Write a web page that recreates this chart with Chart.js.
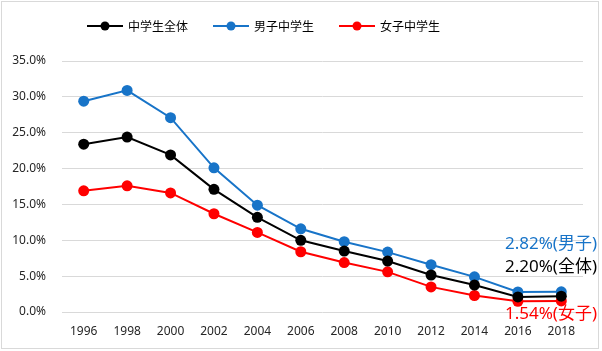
<!DOCTYPE html>
<html>
<head>
<meta charset="utf-8">
<script src="https://cdn.jsdelivr.net/npm/chart.js@4.4.1/dist/chart.umd.min.js"></script>
<style>
  html, body { margin: 0; padding: 0; background: #fff; }
  #wrap { position: relative; width: 602px; height: 351px; }
  #frame { position: absolute; left: 1px; top: 1px; width: 598px; height: 348px;
           border: 1px solid #d9d9d9; box-sizing: border-box; pointer-events: none; }
  #legend { position: absolute; left: 87px; top: 17px; height: 18px; display: flex; gap: 25px;
            font: 12px "Noto Sans CJK JP", "Noto Sans", sans-serif; color: #000; line-height: 18px; }
  #legend .item { display: flex; align-items: center; }
  #legend canvas { margin-right: 5px; }
</style>
</head>
<body>
<div id="wrap">
  <canvas id="chart" width="602" height="351"></canvas>
  <div id="legend"></div>
  <div id="frame"></div>
</div>
<script>
// data (percent)
const years = ['1996','1998','2000','2002','2004','2006','2008','2010','2012','2014','2016','2018'];
const allStudents = [23.4, 24.4, 21.9, 17.1, 13.2, 10.0, 8.5, 7.1, 5.16, 3.76, 2.1, 2.20];
const boys        = [29.4, 30.9, 27.1, 20.1, 14.9, 11.6, 9.8, 8.35, 6.6, 4.9, 2.8, 2.82];
const girls       = [16.9, 17.6, 16.6, 13.7, 11.1, 8.4, 6.9, 5.6, 3.5, 2.3, 1.5, 1.54];
const seriesNames = ['中学生全体', '男子中学生', '女子中学生'];
const endNotes = ['全体', '男子', '女子'];
const colors = ['#000000', '#1874C8', '#FF0000'];
const yMax = 35;
const yStep = 5;

Chart.defaults.font.family = '"Noto Sans", "Noto Sans CJK JP", sans-serif';

const seriesData = [allStudents, boys, girls];

// html legend: line + dot, then name
const legendEl = document.getElementById('legend');
seriesNames.forEach((name, i) => {
  const item = document.createElement('div');
  item.className = 'item';
  const c = document.createElement('canvas');
  c.width = 36; c.height = 12;
  const g = c.getContext('2d');
  g.strokeStyle = colors[i]; g.lineWidth = 2;
  g.beginPath(); g.moveTo(0, 6); g.lineTo(36, 6); g.stroke();
  g.fillStyle = colors[i];
  g.beginPath(); g.arc(18, 6, 4.5, 0, Math.PI * 2); g.fill();
  const t = document.createElement('span');
  t.textContent = name;
  item.appendChild(c);
  item.appendChild(t);
  legendEl.appendChild(item);
});

// last value labels at the right
const endLabels = {
  id: 'endLabels',
  afterDatasetsDraw(chart) {
    const ctx = chart.ctx;
    const yScale = chart.scales.y;
    const offsets = [-29, -48, 13];
    ctx.save();
    ctx.font = '17px "Noto Sans", "Noto Sans CJK JP", sans-serif';
    ctx.textAlign = 'right';
    ctx.textBaseline = 'middle';
    seriesData.forEach((vals, i) => {
      const last = vals[vals.length - 1];
      const y = yScale.getPixelForValue(last) + offsets[i];
      ctx.fillStyle = colors[i];
      ctx.fillText(last.toFixed(2) + '%(' + endNotes[i] + ')', chart.width - 5, y);
    });
    ctx.restore();
  }
};

new Chart(document.getElementById('chart'), {
  type: 'line',
  data: {
    labels: years,
    datasets: seriesData.map((d, i) => ({
      label: seriesNames[i],
      data: d,
      borderColor: colors[i],
      backgroundColor: colors[i],
      borderWidth: 2,
      pointRadius: 5.5,
      pointHoverRadius: 5.5,
      pointBorderWidth: 0,
      tension: 0
    }))
  },
  options: {
    responsive: false,
    animation: false,
    devicePixelRatio: 1,
    layout: { padding: { top: 61, left: 12, right: 19, bottom: 9 } },
    plugins: {
      tooltip: { enabled: false },
      legend: { display: false }
    },
    scales: {
      x: {
        offset: true,
        grid: { display: false, drawTicks: false },
        border: { display: false },
        ticks: { color: '#262626', font: { size: 12 }, padding: 12, maxRotation: 0 },
        afterFit(scale) { scale.height = 30; }
      },
      y: {
        min: 0,
        max: yMax,
        grid: { color: '#d9d9d9', drawTicks: false },
        border: { display: false },
        ticks: {
          stepSize: yStep,
          color: '#262626',
          font: { size: 12 },
          padding: 16,
          callback: v => v.toFixed(1) + '%'
        },
        afterFit(scale) { scale.width = 50; }
      }
    }
  },
  plugins: [endLabels]
});
</script>
</body>
</html>
